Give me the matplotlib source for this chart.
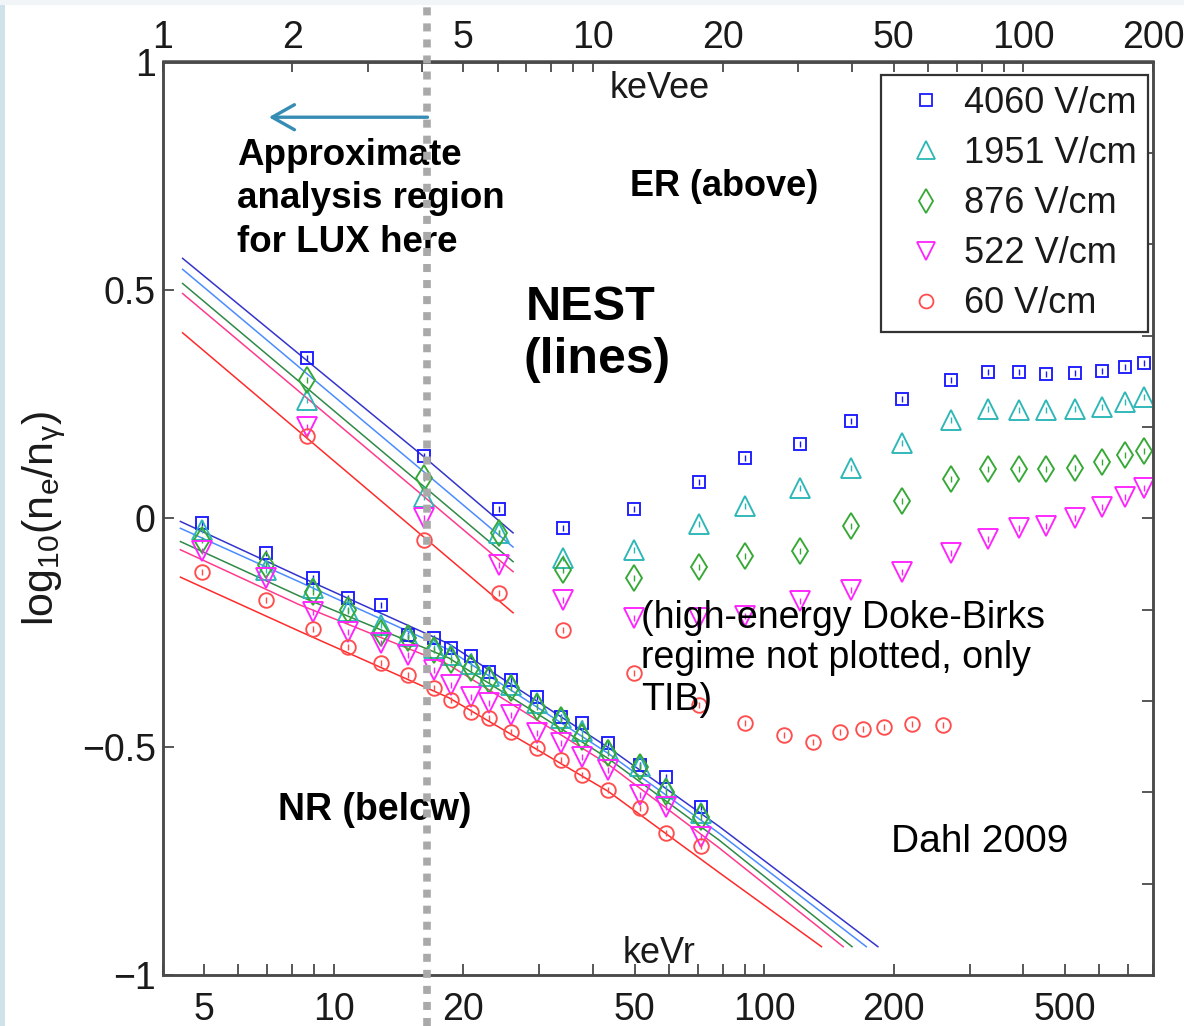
import numpy as np
import matplotlib
matplotlib.use("Agg")
import matplotlib.pyplot as plt
import matplotlib.transforms as mtransforms
from matplotlib.lines import Line2D
from matplotlib.patches import Rectangle
from matplotlib.ticker import FixedLocator, NullFormatter, LogLocator

plt.rcParams['font.family'] = ['Liberation Sans', 'DejaVu Sans']
plt.rcParams['mathtext.fontset'] = 'custom'
plt.rcParams['mathtext.rm'] = 'Liberation Sans'
plt.rcParams['mathtext.it'] = 'Liberation Sans:italic'

# ---------------- data ----------------
fields = ['4060 V/cm', '1951 V/cm', '876 V/cm', '522 V/cm', '60 V/cm']

# ER data (x in keVee)
er_kevee = [2.16, 4.05, 6.04, 8.52, 12.45, 17.6, 22.6, 30.3, 39.8, 52.3, 67.9,
            82.8, 97.9, 113, 132, 152, 172, 191]
er_4060 = [0.351, 0.136, 0.020, -0.021, 0.020, 0.080, 0.131, 0.163, 0.213, 0.262,
           0.303, 0.321, 0.321, 0.316, 0.318, 0.322, 0.332, 0.339]
er_1951 = [0.259, 0.047, -0.032, -0.088, -0.069, -0.012, 0.027, 0.066, 0.109, 0.164,
           0.215, 0.239, 0.237, 0.237, 0.239, 0.243, 0.255, 0.265]
er_876 = [0.303, 0.088, -0.032, -0.113, -0.131, -0.106, -0.082, -0.071, -0.017, 0.038,
          0.086, 0.107, 0.107, 0.107, 0.111, 0.124, 0.139, 0.148]
er_522 = [0.200, 0.001, -0.102, -0.179, -0.219, -0.219, -0.215, -0.182, -0.157, -0.117,
          -0.075, -0.046, -0.022, -0.018, 0.000, 0.025, 0.047, 0.066]
er60_kevee = [2.16, 4.05, 6.04, 8.52, 12.45, 17.6, 22.6, 27.8, 32.5, 37.5, 42.4,
              47.5, 55.2, 65.2]
er_60 = [0.179, -0.047, -0.163, -0.244, -0.339, -0.409, -0.448, -0.474, -0.489,
         -0.468, -0.461, -0.456, -0.450, -0.452]

# NR data (x in keVr)
nr_kevr = [4.93, 6.95, 8.94, 10.8, 12.9, 14.9, 17.1, 18.7, 20.8, 22.9, 25.8, 29.7,
           33.7, 37.8, 43.4, 51.5, 59.2, 71.3]
nr_4060 = [-0.010, -0.076, -0.131, -0.174, -0.190, -0.256, -0.262, -0.284, -0.301,
           -0.336, -0.354, -0.391, -0.435, -0.448, -0.492, -0.540, -0.566, -0.632]
nr_1951 = [-0.026, -0.113, -0.153, -0.203, -0.233, -0.258, -0.284, -0.299, -0.319,
           -0.345, -0.365, -0.404, -0.437, -0.465, -0.507, -0.542, -0.590, -0.645]
nr_876 = [-0.048, -0.103, -0.162, -0.201, -0.251, -0.262, -0.288, -0.310, -0.328,
          -0.354, -0.371, -0.413, -0.441, -0.479, -0.514, -0.544, -0.599, -0.654]
nr_522 = [-0.072, -0.131, -0.205, -0.249, -0.273, -0.299, -0.332, -0.365, -0.391,
          -0.404, -0.430, -0.470, -0.492, -0.522, -0.551, -0.605, -0.632, -0.697]
nr_60 = [-0.117, -0.179, -0.243, -0.282, -0.317, -0.343, -0.371, -0.397, -0.424,
         -0.437, -0.468, -0.503, -0.530, -0.562, -0.595, -0.634, -0.689, -0.717]

# NEST model lines
nest_er_kevee = [1.113, 4.03, 6.52]
nest_er = [[0.569, 0.136, -0.032],
           [0.545, 0.103, -0.063],
           [0.514, 0.071, -0.095],
           [0.492, 0.049, -0.117],
           [0.406, -0.040, -0.207]]
nest_nr_kevr = [4.4, 8.3, 18.5, 43.4, 78.6]
nest_nr_end_kevr = [183.6, 172.6, 159.9, 152.5, 135.8]
nest_nr_end_y = -0.938
nest_nr = [[-0.007, -0.127, -0.275, -0.502, -0.675],
           [-0.022, -0.139, -0.288, -0.515, -0.690],
           [-0.051, -0.170, -0.306, -0.526, -0.705],
           [-0.069, -0.189, -0.321, -0.539, -0.722],
           [-0.129, -0.247, -0.393, -0.598, -0.776]]

KEVR_PER_KEVEE = 4.0
lux_cut_kevr = 16.5
arrow_end_kevr = 7.06
arrow_y = 0.878

bottom_ticks = [5, 10, 20, 50, 100, 200, 500]
top_ticks = [1, 2, 5, 10, 20, 50, 100, 200]
left_ticks = [-1, -0.5, 0, 0.5, 1]
left_labels = ['\u22121', '\u22120.5', '0', '0.5', '1']
right_ticks = [-0.8, -0.6, -0.4, -0.2, 0, 0.2, 0.4, 0.6, 0.8]

# ---------------- style ----------------
marker_colors = ['#1a1aff', '#2cb6b6', '#35a835', '#ff22ff', '#ff4d4d']
markers = ['s', '^', 'd', 'v', 'o']
msizes = [9, 14, 13, 14, 10.5]
line_colors = ['#3434cc', '#4a8cff', '#2e8a46', '#ff3a8c', '#ff2a2a']
spine_col = '#4a4a4a'
text_col = '#1a1a1a'

W, H = 1184, 1026
fig = plt.figure(figsize=(W / 100, H / 100), dpi=100)
fig.patch.set_facecolor('white')

def fx(px):
    return px / W

def fy(py):
    return 1 - py / H

ax = fig.add_axes([fx(162.6), fy(975), fx(1153) - fx(162.6), fy(61.5) - fy(975)])
ax.set_xscale('log')
ax.set_xlim(4, 800)
ax.set_ylim(-1, 1)

# NEST lines
for i in range(5):
    ax.plot(np.array(nest_er_kevee) * KEVR_PER_KEVEE, nest_er[i], color=line_colors[i],
            lw=1.1, zorder=2)
    ax.plot(nest_nr_kevr + [nest_nr_end_kevr[i]], nest_nr[i] + [nest_nr_end_y],
            color=line_colors[i], lw=1.1, zorder=2)

er_sets = [(er_kevee, er_4060), (er_kevee, er_1951), (er_kevee, er_876),
           (er_kevee, er_522), (er60_kevee, er_60)]
nr_sets = [nr_4060, nr_1951, nr_876, nr_522, nr_60]

handles = []
for i in range(5):
    ex = np.array(er_sets[i][0]) * KEVR_PER_KEVEE
    ey = er_sets[i][1]
    for xx, yy in [(ex, ey), (nr_kevr, nr_sets[i])]:
        ax.plot(xx, yy, ls='none', marker=markers[i], ms=msizes[i], mfc='none',
                mec=marker_colors[i], mew=1.35, zorder=3)
        ax.plot(xx, yy, ls='none', marker='|', ms=4, mew=1.0,
                color=marker_colors[i], zorder=3)
    handles.append(Line2D([], [], ls='none', marker=markers[i], ms=msizes[i] * 0.95,
                          mfc='none', mec=marker_colors[i], mew=1.3))

# axes styling
for s in ax.spines.values():
    s.set_color(spine_col)
    s.set_linewidth(1.8)
ax.set_xticks(bottom_ticks)
ax.set_xticklabels([str(t) for t in bottom_ticks])
ax.xaxis.set_minor_locator(LogLocator(base=10, subs=np.arange(2, 10)))
ax.xaxis.set_minor_formatter(NullFormatter())
ax.set_yticks(left_ticks)
ax.set_yticklabels(left_labels)
ax.tick_params(axis='x', which='both', direction='in', top=False, length=8,
               width=1.3, color=spine_col, labelsize=27, labelcolor=text_col, pad=12)
ax.tick_params(axis='y', which='both', direction='in', right=False, length=8,
               width=1.3, color=spine_col, labelsize=27, labelcolor=text_col, pad=5)

secax = ax.secondary_xaxis('top', functions=(lambda x: x / KEVR_PER_KEVEE,
                                             lambda x: x * KEVR_PER_KEVEE))
secax.xaxis.set_major_locator(FixedLocator(top_ticks))
secax.set_xticklabels([str(t) for t in top_ticks])
secax.xaxis.set_minor_locator(LogLocator(base=10, subs=np.arange(2, 10)))
secax.xaxis.set_minor_formatter(NullFormatter())
secax.tick_params(axis='x', which='both', direction='in', length=8, width=1.3,
                  color=spine_col, labelsize=27, labelcolor=text_col, pad=4)
secax.spines['top'].set_color(spine_col)
secax.spines['top'].set_linewidth(1.8)

ax2 = ax.twinx()
ax2.set_ylim(-1, 1)
ax2.set_yticks(right_ticks)
ax2.tick_params(axis='y', direction='in', length=8, width=1.3, color=spine_col,
                labelright=False)
for s in ax2.spines.values():
    s.set_color(spine_col)
    s.set_linewidth(1.8)

leg = ax2.legend(handles, fields, loc='upper left',
                 bbox_to_anchor=(fx(881), fy(75)), bbox_transform=fig.transFigure,
                 fontsize=26, frameon=True, fancybox=False, framealpha=1,
                 edgecolor='#333333', borderpad=0.3, handlelength=1.9,
                 handletextpad=0.1, labelspacing=0.42, borderaxespad=0)
leg.get_frame().set_linewidth(1.6)
for t in leg.get_texts():
    t.set_color(text_col)

# axis labels and annotations (pixel-placed text)
fig.text(fx(44), fy(518), r'$\mathregular{log_{10}(n_e/n_\gamma)}$', rotation=90,
         ha='center', va='center', fontsize=31, color=text_col)
fig.text(fx(660), fy(98), 'keVee', ha='center', va='baseline', fontsize=26, color=text_col)
fig.text(fx(659), fy(963), 'keVr', ha='center', va='baseline', fontsize=26, color=text_col)

bold = dict(fontweight='bold', color='black', va='baseline', ha='left')
fig.text(fx(237), fy(165), 'Approximate', fontsize=26.5, **bold)
fig.text(fx(237), fy(208), 'analysis region', fontsize=26.5, **bold)
fig.text(fx(237), fy(252), 'for LUX here', fontsize=26.5, **bold)
fig.text(fx(630), fy(196), 'ER (above)', fontsize=26, **bold)
fig.text(fx(526), fy(320), 'NEST', fontsize=35, **bold)
fig.text(fx(523), fy(373), '(lines)', fontsize=36, **bold)
fig.text(fx(278), fy(820), 'NR (belcw)', fontsize=27, **bold)

reg = dict(color='black', va='baseline', ha='left', fontsize=27)
fig.text(fx(641), fy(628), '(high-energy Doke-Birks', **reg)
fig.text(fx(641), fy(668), 'regime not plotted, only', **reg)
fig.text(fx(641), fy(710), 'TIB)', **reg)
fig.text(fx(891), fy(852), 'Dahl 2009', fontsize=28, color='black', va='baseline', ha='left')

# arrow for LUX analysis region
ax.annotate('', xy=(arrow_end_kevr, arrow_y), xytext=(lux_cut_kevr, arrow_y),
            arrowprops=dict(arrowstyle='->,head_length=0.8,head_width=0.45',
                            mutation_scale=20, color='#358cb4', lw=2.4,
                            shrinkA=0, shrinkB=0), zorder=6)

# dotted vertical line across the whole figure
trans = mtransforms.blended_transform_factory(ax.transData, fig.transFigure)
vline = Line2D([lux_cut_kevr, lux_cut_kevr], [0, fy(5)], transform=trans,
               color='#a9a9a9', lw=5.5, ls=(0, (1.05, 1.05)), solid_capstyle='butt',
               dash_capstyle='butt', zorder=10)
fig.add_artist(vline)

# slide background edges
fig.add_artist(Rectangle((0, 0), fx(5), 1, transform=fig.transFigure,
                         facecolor='#cfe2ea', edgecolor='none', zorder=-1))
fig.add_artist(Rectangle((0, fy(5)), 1, 5 / H, transform=fig.transFigure,
                         facecolor='#f1f5f8', edgecolor='none', zorder=-1))

fig.savefig('out.png', dpi=100)
